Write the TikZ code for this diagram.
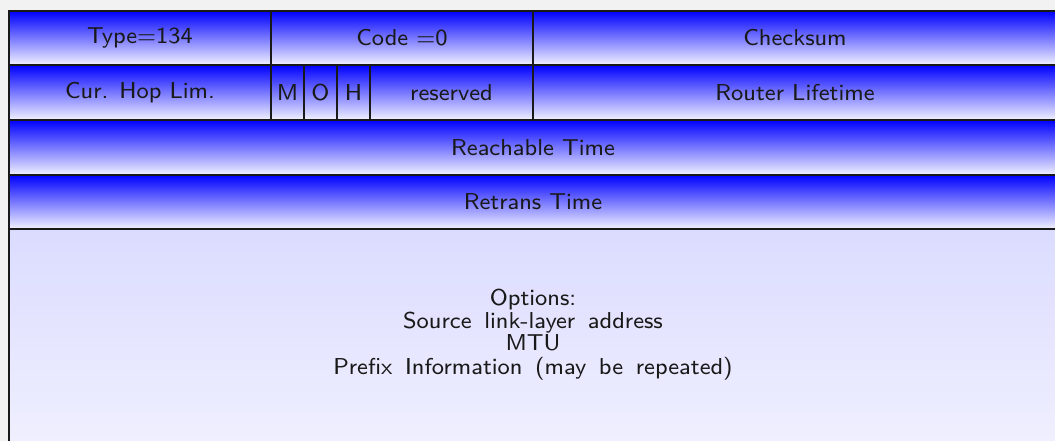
\documentclass[tikz,border=0pt]{standalone}
\tikzset{
  word/.style={draw=black!90, line width=0.8pt, inner sep=0pt, outer sep=0pt,
    top color=blue, bottom color=blue!5, font=\sffamily\fontsize{8}{9}\selectfont, text=black!90},
  optarea/.style={draw=black!90, line width=0.8pt, inner sep=0pt, outer sep=0pt,
    top color=blue!14, bottom color=blue!6},
  plaintext/.style={font=\sffamily\fontsize{8}{7.76}\selectfont, text=black!90, inner sep=0pt}
}
% small optical size, enlarged
\newcommand\biglabel[1]{\scalebox{1.25}{#1}}
% one header field: name, x1, y1, x2, y2, text (coordinates in pixel units)
\newcommand\hdrfield[7][word]{%
  \node[#1, minimum width={(#5-#3)*0.4348pt}, minimum height={(#6-#4)*0.4348pt}]
    (#2) at ({(#3+#5)/2},{(#4+#6)/2}) {\biglabel{#7}};}
\begin{document}
\begin{tikzpicture}[x=0.4348pt,y=-0.4348pt]
\useasboundingbox (0,0) rectangle (1055,441);
\fill[black!5] (0,0) rectangle (1055,441);
\begin{scope}
\clip (0,0) rectangle (1055,441);
% options area (runs past the lower edge)
\hdrfield[optarea]{opts}{9}{229}{1057}{447}{}
% first word
\hdrfield{type}{9}{11}{271}{65}{Type=134}
\hdrfield{code}{271}{11}{533}{65}{Code =0}
\hdrfield{csum}{533}{11}{1057}{65}{Checksum}
% second word
\hdrfield{hop}{9}{65}{271}{120}{Cur. Hop Lim.}
\hdrfield{mflag}{271}{65}{304}{120}{M}
\hdrfield{oflag}{304}{65}{337}{120}{O}
\hdrfield{hflag}{337}{65}{370}{120}{H}
\hdrfield{resv}{370}{65}{533}{120}{reserved}
\hdrfield{life}{533}{65}{1057}{120}{Router Lifetime}
% third and fourth words
\hdrfield{reach}{9}{120}{1057}{175}{Reachable Time}
\hdrfield{retrans}{9}{175}{1057}{229}{Retrans Time}
% options text
\node[plaintext] (optstext) at (533,335) {\biglabel{\spaceskip=0.55em
  \begin{tabular}{@{}c@{}}Options:\\Source link-layer address\\MTU\\Prefix Information (may be repeated)\end{tabular}}};
\end{scope}
\end{tikzpicture}
\end{document}
